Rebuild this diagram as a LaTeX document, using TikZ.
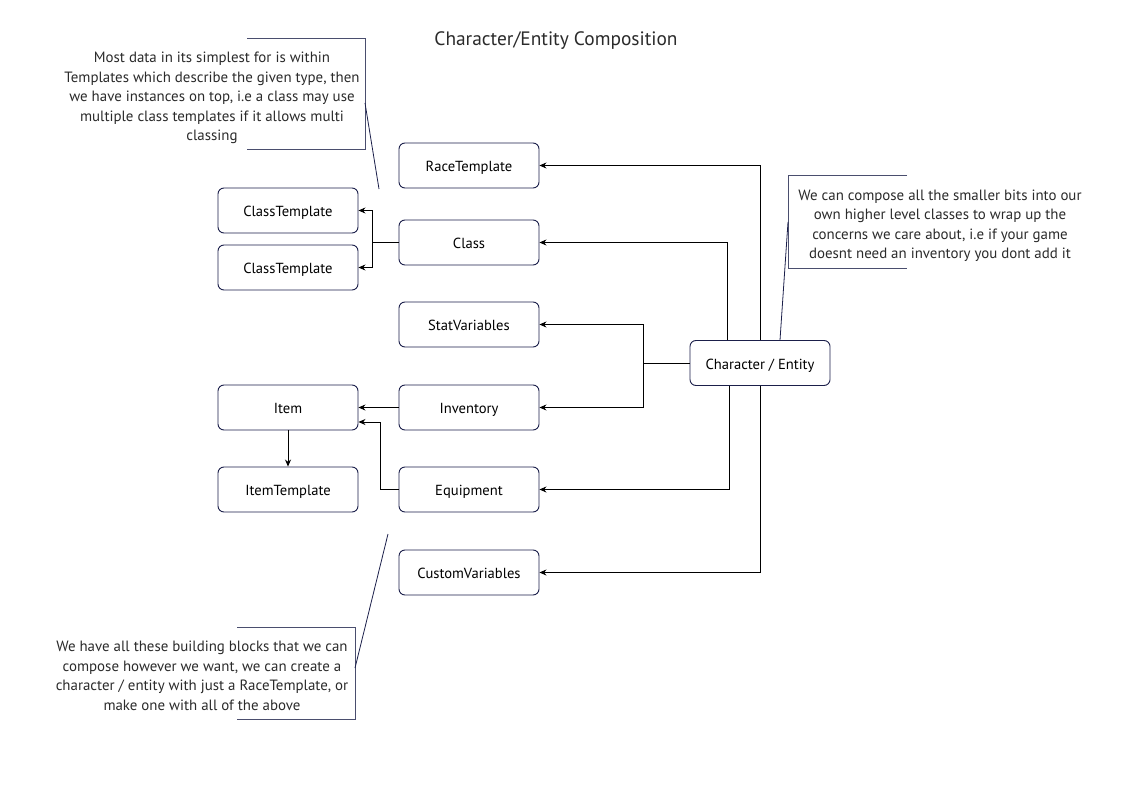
\documentclass[tikz,border=0pt]{standalone}
\usepackage{fontspec}
\setmainfont{PT Sans}
\usetikzlibrary{arrows.meta}
\definecolor{navy}{HTML}{1B1F4A}
\definecolor{txt}{HTML}{2B2B2B}
\definecolor{brk}{HTML}{4A4E6E}
\begin{document}
\begin{tikzpicture}[x=1pt,y=-1pt,
  box/.style={draw=navy,line width=0.9pt,rounded corners=6pt,minimum width=140pt,minimum height=45pt,inner sep=0pt,text height=12.5pt,text depth=0pt,text=black,font=\fontsize{14.6}{17}\selectfont},
  conn/.style={draw=black,line width=0.8pt,-{Stealth[length=7pt,width=6pt]}},
  note/.style={align=center,text=txt,font=\fontsize{14.9}{19.5}\selectfont,inner sep=0pt},
  brack/.style={draw=brk,line width=1pt},
  lead/.style={draw=navy,line width=0.8pt}]
\useasboundingbox (0,0) rectangle (1123,794);
\fill[white] (0,0) rectangle (1123,794);
\node[text=txt,font=\fontsize{19.4}{24}\selectfont] (title) at (556,41) {Character/Entity Composition};

\node[box] (race) at (469,165.5) {RaceTemplate};
\node[box] (class) at (469,242.5) {Class};
\node[box] (stat) at (469,324.5) {StatVariables};
\node[box] (inv) at (469,407.5) {Inventory};
\node[box] (equip) at (469,489.5) {Equipment};
\node[box] (custom) at (469,572.5) {CustomVariables};
\node[box] (ct1) at (288,210.5) {ClassTemplate};
\node[box] (ct2) at (288,267.5) {ClassTemplate};
\node[box] (item) at (288,407.5) {Item};
\node[box] (itemt) at (288,489.5) {ItemTemplate};
\node[box] (char) at (760,363) {Character / Entity};

% character connectors
\draw[conn] (char.north -| 760,0) |- (race.east);
\draw[conn] (char.north -| 727,0) |- (class.east);
\draw[conn] (char.west) -- (643,363) |- (stat.east);
\draw[conn] (char.west) -- (643,363) |- (inv.east);
\draw[conn] (char.south -| 729,0) |- (equip.east);
\draw[conn] (char.south -| 760,0) |- (custom.east);

% class -> templates
\draw[conn] (class.west) -- (372,242.5) |- (ct1.east);
\draw[conn] (class.west) -- (372,242.5) |- (ct2.east);
% inventory/equipment -> item
\draw[conn] (inv.west) -- (item.east);
\draw[conn] (equip.west) -- (380,489.5) |- (item.east |- 0,422);
\draw[conn] (item.south) -- (itemt.north);

% notes
\node[note] (n1) at (212,98) {Most data in its simplest for is within\\Templates which describe the given type, then\\we have instances on top, i.e a class may use\\multiple class templates if it allows multi\\classing};
\draw[brack] (247,39) -- (365,39) -- (365,150) -- (247,150);
\coordinate (n1a) at (365,103);
\coordinate (n1b) at (379,189);
\draw[lead] (n1a) -- (n1b);

\node[note] (n2) at (940,226) {We can compose all the smaller bits into our\\own higher level classes to wrap up the\\concerns we care about, i.e if your game\\doesnt need an inventory you dont add it};
\draw[brack] (907,176) -- (788,176) -- (788,268) -- (907,268);
\coordinate (n2a) at (788,222);
\draw[lead] (n2a) -- (char.north -| 780,0);

\node[note] (n3) at (202,676) {We have all these building blocks that we can\\compose however we want, we can create a\\character / entity with just a RaceTemplate, or\\make one with all of the above};
\draw[brack] (237,627) -- (355,627) -- (355,719) -- (237,719);
\coordinate (n3a) at (355,668);
\coordinate (n3b) at (388,534);
\draw[lead] (n3a) -- (n3b);
\end{tikzpicture}
\end{document}
